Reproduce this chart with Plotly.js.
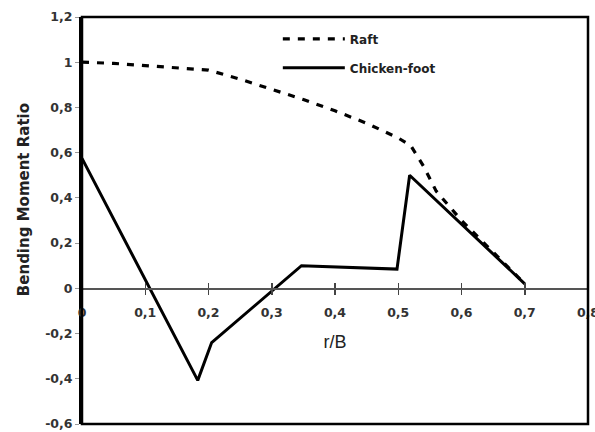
<!DOCTYPE html>
<html><head><meta charset="utf-8">
<script src="https://cdn.plot.ly/plotly-3.0.1.min.js"></script>
<style>html,body{margin:0;padding:0;background:#fff}#chart{width:595px;height:432px}</style>
</head><body><div id="chart"></div>
<script>
var raftX = [0, 0.05, 0.1, 0.15, 0.2, 0.25, 0.3, 0.35, 0.4, 0.45, 0.5, 0.52, 0.54, 0.56, 0.6, 0.65, 0.7];
var raftY = [1.0, 0.995, 0.985, 0.975, 0.965, 0.925, 0.88, 0.835, 0.785, 0.73, 0.665, 0.63, 0.54, 0.43, 0.3, 0.16, 0.02];
var chickenX = [0, 0.183, 0.205, 0.347, 0.498, 0.518, 0.70];
var chickenY = [0.575, -0.407, -0.24, 0.10, 0.085, 0.50, 0.02];
var xTickVals = [0, 0.1, 0.2, 0.3, 0.4, 0.5, 0.6, 0.7, 0.8];
var xTickText = ['0', '0,1', '0,2', '0,3', '0,4', '0,5', '0,6', '0,7', '0,8'];
var yTickVals = [-0.6, -0.4, -0.2, 0, 0.2, 0.4, 0.6, 0.8, 1, 1.2];
var yTickText = ['-0,6', '-0,4', '-0,2', '0', '0,2', '0,4', '0,6', '0,8', '1', '1,2'];
var yTitle = 'Bending Moment Ratio';

var FONT = 'DejaVu Sans, Verdana, sans-serif';
var tickFont = {family: FONT, size: 12.5, color: '#333', weight: 'bold'};

var traces = [
  {x: raftX, y: raftY, name: 'Raft', mode: 'lines', legendgroup: 'a',
   line: {color: '#000', width: 3.2, dash: '7px,8px'}},
  {x: chickenX, y: chickenY, name: 'Chicken-foot', mode: 'lines', legendgroup: 'b',
   line: {color: '#000', width: 3}},
  {x: [], y: [], xaxis: 'x2', showlegend: false, mode: 'lines', hoverinfo: 'skip'}
];

var layout = {
  width: 595, height: 432,
  margin: {l: 82, r: 7, t: 17, b: 8},
  paper_bgcolor: '#fff', plot_bgcolor: '#fff',
  showlegend: true,
  legend: {x: 0.387, y: 0.982, xanchor: 'left', yanchor: 'top', bgcolor: 'rgba(0,0,0,0)',
    itemwidth: 62, tracegroupgap: 10,
    font: {family: FONT, size: 12, color: '#222', weight: 'bold'}},
  xaxis: {range: [0, 0.8], anchor: 'free', position: 1/3,
    tickvals: xTickVals, ticktext: xTickText,
    ticks: 'outside', ticklen: 5, tickwidth: 1.5, tickcolor: '#444',
    ticklabelstandoff: 7, ticklabeloverflow: 'allow',
    showgrid: false, zeroline: false, showline: true, linecolor: '#555', linewidth: 1.5,
    tickfont: tickFont,
    title: {text: 'r/B', standoff: 16, font: {family: 'Liberation Sans, Arial, sans-serif', size: 18, color: '#222'}}},
  xaxis2: {range: [0, 0.8], overlaying: 'x', anchor: 'free', position: 1/3,
    tickvals: xTickVals, ticks: 'inside', ticklen: 5, tickwidth: 1.5, tickcolor: '#444',
    showticklabels: false, showgrid: false, zeroline: false, showline: false},
  yaxis: {range: [-0.6, 1.2], tickvals: yTickVals, ticktext: yTickText,
    ticks: 'outside', ticklen: 4, tickcolor: '#999', tickwidth: 1,
    showgrid: false, zeroline: false, showline: true, linecolor: '#000', linewidth: 3,
    tickfont: tickFont},
  annotations: [{text: yTitle, textangle: -90, xref: 'paper', yref: 'paper',
    x: 0, y: 0.55, xanchor: 'center', yanchor: 'middle', xshift: -58, showarrow: false,
    font: {family: FONT, size: 15, color: '#222', weight: 'bold'}}],
  shapes: [{type: 'rect', xref: 'paper', yref: 'paper', x0: 0, x1: 1, y0: 0, y1: 1,
    line: {color: '#000', width: 2.5}}]
};

Plotly.newPlot('chart', traces, layout, {displayModeBar: false, staticPlot: true});
</script></body></html>
